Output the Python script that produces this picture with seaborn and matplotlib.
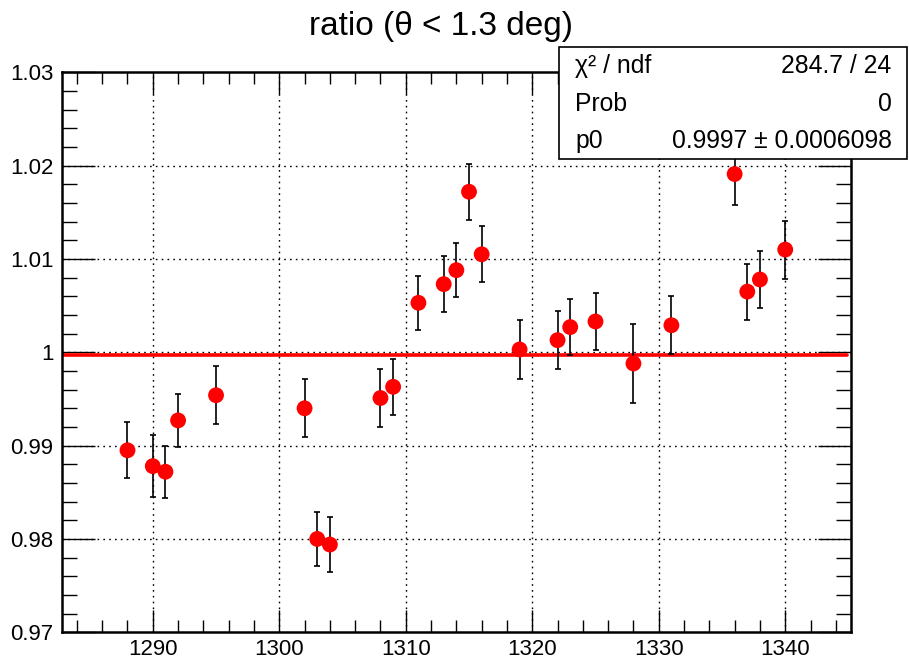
import matplotlib
matplotlib.use("Agg")
import matplotlib.pyplot as plt
import seaborn as sns
import numpy as np
import pandas as pd
from matplotlib.ticker import MultipleLocator, FuncFormatter
from matplotlib.patches import Rectangle

# ---- data ----
runs = [1288, 1290, 1291, 1292, 1295, 1302, 1303, 1304, 1308, 1309,
        1311, 1313, 1314, 1315, 1316, 1319, 1322, 1323, 1325, 1328,
        1331, 1336, 1337, 1338, 1340]
ratio = [0.9895, 0.9878, 0.9872, 0.9927, 0.9954, 0.9940, 0.9800, 0.9794, 0.9951, 0.9963,
         1.0053, 1.0073, 1.0088, 1.0172, 1.0105, 1.0003, 1.0013, 1.0027, 1.0033, 0.9988,
         1.0029, 1.0191, 1.0065, 1.0078, 1.0110]
err = [0.0030, 0.0033, 0.0028, 0.0028, 0.0031, 0.0031, 0.0029, 0.0029, 0.0031, 0.0030,
       0.0029, 0.0030, 0.0029, 0.0030, 0.0030, 0.0032, 0.0031, 0.0030, 0.0031, 0.0042,
       0.0031, 0.0033, 0.0030, 0.0031, 0.0031]
fit_p0 = 0.9997
fit_range = [1283.0, 1344.9]
title = "ratio (θ < 1.3 deg)"
stats_labels = ["χ² / ndf", "Prob", "p0"]
stats_values = ["284.7 / 24", "0", "0.9997 ± 0.0006098"]
x_limits = [1282.8, 1345.2]
y_limits = [0.97, 1.03]

df = pd.DataFrame({"run": runs, "ratio": ratio, "err": err})
fit_df = pd.DataFrame({"run": fit_range, "fit": [fit_p0, fit_p0]})

sns.set_theme(style="white")
plt.rcParams["font.family"] = ["Liberation Sans", "DejaVu Sans"]
plt.rcParams["text.color"] = "black"
plt.rcParams["xtick.color"] = "black"
plt.rcParams["ytick.color"] = "black"
plt.rcParams["xtick.labelcolor"] = "black"
plt.rcParams["ytick.labelcolor"] = "black"

fig = plt.figure(figsize=(9.09, 6.62), dpi=100)
ax = fig.add_axes([0.0679, 0.0449, 0.9362 - 0.0679, 0.8908 - 0.0449])

# grid
for xv in range(1290, 1341, 10):
    ax.axvline(xv, color="black", lw=1.0, ls=(0, (1.2, 3)), zorder=1)
for yv in [0.98, 0.99, 1.0, 1.01, 1.02]:
    ax.axhline(yv, color="black", lw=1.0, ls=(0, (1.2, 3)), zorder=1)

# fit line
sns.lineplot(data=fit_df, x="run", y="fit", color="#ff0000", lw=2.6, ax=ax, zorder=2)

# error bars
ax.errorbar(df["run"], df["ratio"], yerr=df["err"], fmt="none", ecolor="black",
            elinewidth=1.2, capsize=2.2, capthick=1.2, zorder=3)
# markers
sns.scatterplot(data=df, x="run", y="ratio", color="#ff0000", s=130, edgecolor="none",
                linewidth=0, ax=ax, zorder=4)

ax.set_xlim(*x_limits)
ax.set_ylim(*y_limits)
ax.set_xlabel("")
ax.set_ylabel("")

ax.xaxis.set_major_locator(MultipleLocator(10))
ax.xaxis.set_minor_locator(MultipleLocator(2))
ax.yaxis.set_major_locator(MultipleLocator(0.01))
ax.yaxis.set_minor_locator(MultipleLocator(0.002))
ax.yaxis.set_major_formatter(FuncFormatter(lambda v, p: "%g" % round(v, 4)))
ax.xaxis.set_major_formatter(FuncFormatter(lambda v, p: "%d" % round(v)))

ax.tick_params(axis="both", which="both", direction="in", top=True, right=True,
               bottom=True, left=True, color="black", labelcolor="black",
               width=1.0, labelsize=16)
ax.tick_params(axis="y", which="major", length=24)
ax.tick_params(axis="y", which="minor", length=11)
ax.tick_params(axis="x", which="major", length=16)
ax.tick_params(axis="x", which="minor", length=8.5)
ax.tick_params(axis="x", which="major", pad=5)
ax.tick_params(axis="y", which="major", pad=6)

for s in ax.spines.values():
    s.set_color("black")
    s.set_linewidth(1.8)

fig.text(441 / 909, 1 - 27 / 662, title, ha="center", va="center", fontsize=24,
         color="black")

# stats box
W, H = 909.0, 662.0
bx0, by0, bx1, by1 = 558.5, 47.5, 907.0, 159.0
rect = Rectangle((bx0 / W, 1 - by1 / H), (bx1 - bx0) / W, (by1 - by0) / H,
                 transform=fig.transFigure, facecolor="white", edgecolor="black",
                 lw=1.2, zorder=10)
fig.add_artist(rect)
row_y = [66, 104, 141]
for lab, val, yy in zip(stats_labels, stats_values, row_y):
    fig.text(575 / W, 1 - yy / H, lab, ha="left", va="center", fontsize=17.8,
             color="black", zorder=11)
    fig.text(891.5 / W, 1 - yy / H, val, ha="right", va="center", fontsize=17.8,
             color="black", zorder=11)

fig.savefig("out.png", dpi=100)
